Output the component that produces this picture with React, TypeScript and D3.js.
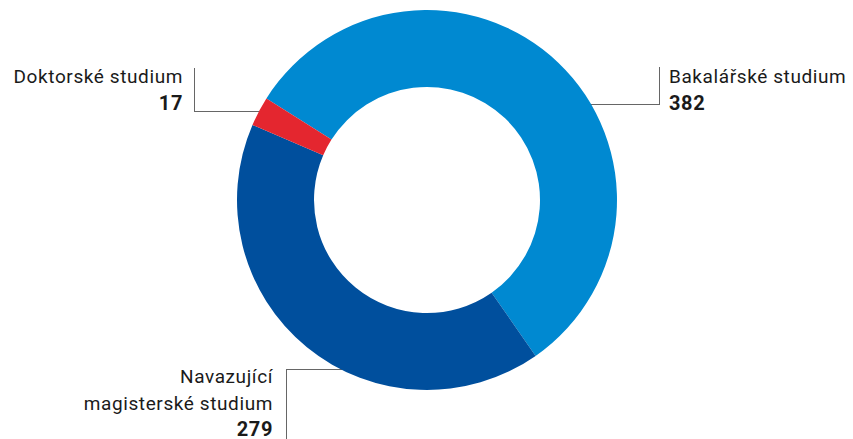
import React from "react";
import * as d3 from "d3";

const categories = ["Bakalářské studium", "Navazující magisterské studium", "Doktorské studium"];
const values = [382, 279, 17];
const colors = ["#0089d1", "#004f9d", "#e4262f"];

const W = 853;
const H = 439;
const CX = 427;
const CY = 200;
const R_OUT = 190;
const R_IN = 113;
const START_DEG = -57.7;

const FONT = "Roboto, 'Noto Sans', sans-serif";
const FS = 19;
const LS = 0.6;
const LINE_COLOR = "#666";
const TEXT_COLOR = "#1a1a1a";

export default function App() {
  if (typeof document !== "undefined") document.body.style.margin = "0";
  const start = (START_DEG * Math.PI) / 180;
  const pie = d3
    .pie<number>()
    .sort(null)
    .startAngle(start)
    .endAngle(start + 2 * Math.PI)(values);
  const arc = d3.arc<d3.PieArcDatum<number>>().innerRadius(R_IN).outerRadius(R_OUT);

  const edgeX = (y: number, side: number) => CX + side * Math.sqrt(R_OUT * R_OUT - (y - CY) * (y - CY)) * 0.98;

  const bakY = 104;
  const dokY = 111;
  const navY = 369;

  return (
    <svg width={W} height={H} style={{ display: "block" }} fontFamily={FONT}>
      <rect width={W} height={H} fill="#fff" />
      <g stroke={LINE_COLOR} strokeWidth={1} fill="none" shapeRendering="crispEdges">
        <polyline points={`659.5,67 659.5,${bakY + 0.5} ${edgeX(bakY, 1)},${bakY + 0.5}`} />
        <polyline points={`194.5,68 194.5,${dokY + 0.5} ${edgeX(dokY, -1)},${dokY + 0.5}`} />
        <polyline points={`286.5,${H + 2} 286.5,${navY + 0.5} ${edgeX(navY, -1)},${navY + 0.5}`} />
      </g>
      <g transform={`translate(${CX},${CY})`}>
        {pie.map((d, i) => (
          <path key={categories[i]} d={arc(d) || ""} fill={colors[i]} />
        ))}
      </g>
      <g fill={TEXT_COLOR} fontSize={FS} letterSpacing={LS}>
        <text x={669} y={83}>{categories[0]}</text>
        <text x={669} y={110} fontWeight="bold" fontSize={20}>{values[0]}</text>
        <text x={183} y={83} textAnchor="end">{categories[2]}</text>
        <text x={183} y={110} textAnchor="end" fontWeight="bold" fontSize={20}>{values[2]}</text>
        <text x={273} y={383} textAnchor="end">Navazující</text>
        <text x={273} y={410} textAnchor="end">magisterské studium</text>
        <text x={273} y={436} textAnchor="end" fontWeight="bold" fontSize={20}>{values[1]}</text>
      </g>
    </svg>
  );
}
